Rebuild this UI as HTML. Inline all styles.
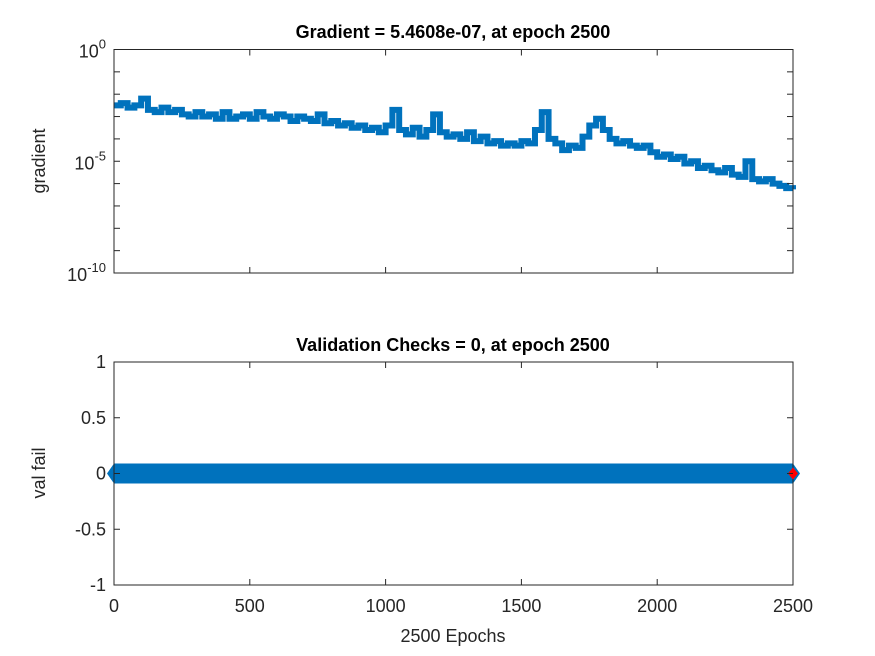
<!DOCTYPE html>
<html><head><meta charset="utf-8"><style>
html,body{margin:0;padding:0;background:#fff;}
svg{display:block;font-family:"Liberation Sans",Arial,sans-serif;}
</style></head><body>
<svg id="fig" width="875" height="656" viewBox="0 0 875 656">
<g id="topg"></g>
<g id="botg"></g>
</svg>
<script>
const epochs = [0,25,50,75,100,125,150,175,200,225,250,275,300,325,350,375,400,425,450,475,500,525,550,575,600,625,650,675,700,725,750,775,800,825,850,875,900,925,950,975,1000,1025,1050,1075,1100,1125,1150,1175,1200,1225,1250,1275,1300,1325,1350,1375,1400,1425,1450,1475,1500,1525,1550,1575,1600,1625,1650,1675,1700,1725,1750,1775,1800,1825,1850,1875,1900,1925,1950,1975,2000,2025,2050,2075,2100,2125,2150,2175,2200,2225,2250,2275,2300,2325,2350,2375,2400,2425,2450,2475,2500];
const gradLog10 = [-2.5,-2.4,-2.6,-2.5,-2.2,-2.7,-2.8,-2.6,-2.8,-2.7,-2.9,-3.0,-2.8,-3.0,-2.9,-3.1,-2.8,-3.1,-3.0,-2.9,-3.1,-2.8,-3.0,-3.1,-2.9,-3.0,-3.2,-3.0,-3.1,-3.2,-2.9,-3.3,-3.2,-3.4,-3.3,-3.5,-3.4,-3.6,-3.5,-3.7,-3.4,-2.7,-3.6,-3.8,-3.5,-3.9,-3.6,-2.9,-3.7,-3.9,-3.8,-4.0,-3.7,-4.1,-3.9,-4.2,-4.1,-4.3,-4.2,-4.3,-4.1,-4.2,-3.6,-2.8,-4.0,-4.2,-4.5,-4.3,-4.4,-3.9,-3.4,-3.1,-3.6,-4.0,-4.2,-4.1,-4.3,-4.4,-4.3,-4.6,-4.8,-4.7,-4.9,-4.8,-5.1,-5.0,-5.3,-5.2,-5.4,-5.5,-5.3,-5.6,-5.7,-5.0,-5.8,-5.9,-5.8,-6.0,-6.1,-6.2,-6.26];
const valEpochs = [0,2500];
const valFail = [0,0];
const xTicks = [0,500,1000,1500,2000,2500];
const valTicks = [-1,-0.5,0,0.5,1];
const valTickLabels = ["-1","-0.5","0","0.5","1"];

const NS="http://www.w3.org/2000/svg";
function mk(parent,tag,attrs,text){const e=document.createElementNS(NS,tag);for(const k in attrs)e.setAttribute(k,attrs[k]);if(text!==undefined)e.textContent=text;parent.appendChild(e);return e;}
const X0=114,X1=793;
const xs=v=>X0+(v/2500)*(X1-X0);
const TY0=49.5,TY1=273;
const ys1=l=>TY0+(-l/10)*(TY1-TY0);
const BY0=362,BY1=585;
const ys2=v=>BY1-(v+1)/2*(BY1-BY0);
const gTop=document.getElementById('topg'), gBot=document.getElementById('botg');
const FS=18;

let d='';
for(let i=0;i<epochs.length;i++){
  const x=xs(epochs[i]), y=ys1(gradLog10[i]);
  if(i===0) d+='M'+x+' '+y; else d+=' H'+x+' V'+y;
}
const line=mk(gTop,'path',{d:d,fill:'none',stroke:'#0072BD','stroke-width':6,'stroke-linejoin':'miter'});


const tb=mk(gTop,'rect',{x:X0,y:TY0,width:X1-X0,height:TY1-TY0,fill:'none',stroke:'#262626','stroke-width':1});


xTicks.forEach(t=>{const x=xs(t);mk(gTop,'line',{x1:x,x2:x,y1:TY1,y2:TY1-6,stroke:'#262626'});mk(gTop,'line',{x1:x,x2:x,y1:TY0,y2:TY0+6,stroke:'#262626'});});
for(let l=0;l>=-10;l--){const y=ys1(l);mk(gTop,'line',{x1:X0,x2:X0+6,y1:y,y2:y,stroke:'#262626'});mk(gTop,'line',{x1:X1,x2:X1-6,y1:y,y2:y,stroke:'#262626'});}
[0,-5,-10].forEach(l=>{const y=ys1(l);
  const t=mk(gTop,'text',{x:X0-8,y:y+8,'text-anchor':'end','font-size':FS,fill:'#262626'});
  
  
  mk(t,'tspan',{},'10');
  mk(t,'tspan',{'font-size':13,dy:-9},String(l));
});
const tt=mk(gTop,'text',{x:453,y:38,'text-anchor':'middle','font-size':18,'font-weight':'bold',fill:'#000'},'Gradient = 5.4608e-07, at epoch 2500');


const yl=mk(gTop,'text',{x:0,y:0,'text-anchor':'middle','font-size':FS,fill:'#262626',transform:'translate(45,161) rotate(-90)'},'gradient');



const bx0=xs(valEpochs[0]), bx1=xs(valEpochs[1]), by=ys2(valFail[0]);
const band=mk(gBot,'path',{d:`M${bx0-7} ${by} L${bx0} ${by-10} L${bx1} ${by-10} L${bx1+7} ${by} L${bx1} ${by+10} L${bx0} ${by+10} Z`,fill:'#0072BD'});


const bb=mk(gBot,'rect',{x:X0,y:BY0,width:X1-X0,height:BY1-BY0,fill:'none',stroke:'#262626','stroke-width':1});


const rd=mk(gBot,'path',{d:`M${bx1-5} ${by} L${bx1} ${by-6} L${bx1+5} ${by} L${bx1} ${by+6} Z`,fill:'#FF0000'});


xTicks.forEach(t=>{const x=xs(t);mk(gBot,'line',{x1:x,x2:x,y1:BY1,y2:BY1-6,stroke:'#262626'});mk(gBot,'line',{x1:x,x2:x,y1:BY0,y2:BY0+6,stroke:'#262626'});
  const lb=mk(gBot,'text',{x:x,y:612,'text-anchor':'middle','font-size':FS,fill:'#262626'},String(t));
  
  
});
valTicks.forEach((v,i)=>{const y=ys2(v);mk(gBot,'line',{x1:X0,x2:X0+6,y1:y,y2:y,stroke:'#262626'});mk(gBot,'line',{x1:X1,x2:X1-6,y1:y,y2:y,stroke:'#262626'});
  const lb=mk(gBot,'text',{x:X0-8,y:y+6,'text-anchor':'end','font-size':FS,fill:'#262626'},valTickLabels[i]);
  
  
});
const bt=mk(gBot,'text',{x:453,y:351,'text-anchor':'middle','font-size':18,'font-weight':'bold',fill:'#000'},'Validation Checks = 0, at epoch 2500');


const byl=mk(gBot,'text',{x:0,y:0,'text-anchor':'middle','font-size':FS,fill:'#262626',transform:'translate(45,473) rotate(-90)'},'val fail');


const xl=mk(gBot,'text',{x:453,y:642,'text-anchor':'middle','font-size':FS,fill:'#262626'},'2500 Epochs');


</script>
</body></html>
